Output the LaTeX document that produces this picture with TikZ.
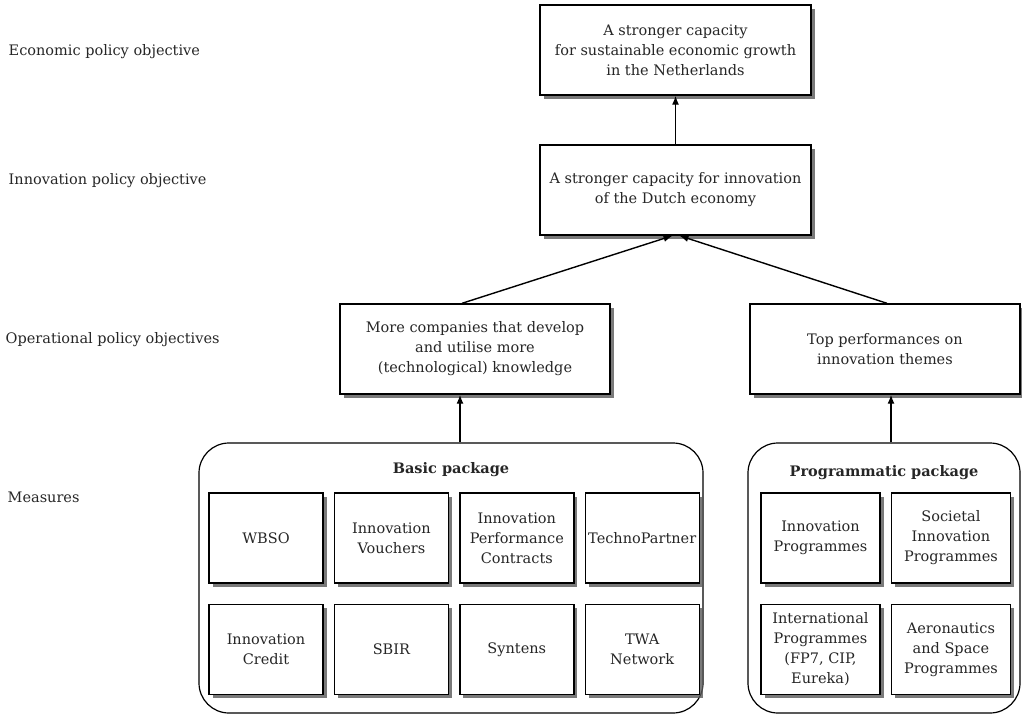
\documentclass[tikz,border=0pt]{standalone}
\usepackage{fontspec}
\setmainfont{DejaVu Serif}
\usetikzlibrary{positioning}
\usetikzlibrary{arrows.meta}
\usetikzlibrary{shadows}
\tikzset{>={Latex[length=9pt,width=7pt]}}
\tikzset{every node/.style={font=\fontsize{14.5}{20}\selectfont, text=black!85}}
\tikzset{goal/.style={draw, fill=white, align=center, minimum width=271pt, minimum height=90pt, inner sep=2pt, drop shadow={shadow xshift=3.5pt, shadow yshift=-4pt, fill=black!65, opacity=0.8}}}
\tikzset{measure/.style={goal, minimum width=114pt}}
\tikzset{pkg/.style={draw, line width=1.2pt, rounded corners=30pt, minimum height=270pt}}
\tikzset{lvl/.style={anchor=west, inner sep=0pt}}
\tikzset{pkgtitle/.style={font=\fontsize{14.5}{20}\selectfont\bfseries}}

\begin{document}
\begin{tikzpicture}[x=1pt, y=-1pt, line width=1.4pt]
        \useasboundingbox (0,0) rectangle (1022,715);

        \node[lvl] (econ) at (8,52) {Economic policy objective};
        \node[lvl] (inno) at (8,181) {Innovation policy objective};
        \node[lvl] (oper) at (5,340) {Operational policy objectives};
        \node[lvl] (meas) at (7,497) {Measures};

        \node[goal] (growth) at (675.5,50) {A stronger capacity\\for sustainable economic growth\\in the Netherlands};
        \node[goal] (innov) at (675.5,190) {A stronger capacity for innovation\\of the Dutch economy};
        \node[goal, minimum width=270pt] (firms) at (475,349) {More companies that develop\\and utilise more\\(technological) knowledge};
        \node[goal, minimum width=270pt] (themes) at (885,349) {Top performances on\\innovation themes};

        \node[pkg, minimum width=504pt] (basic) at (451,578) {};
        \node[pkg, minimum width=272pt] (prog) at (884,578) {};
        \node[pkgtitle] (basictitle) at ([yshift=-27pt]basic.north) {Basic package};
        \node[pkgtitle] (progtitle) at ([yshift=-30pt]prog.north) {Programmatic package};

        \node[measure] (wbso) at (266,538) {WBSO};
        \node[measure, right=10pt of wbso] (vouch) {Innovation\\Vouchers};
        \node[measure, right=10pt of vouch] (ipc) {Innovation\\Performance\\Contracts};
        \node[measure, right=10pt of ipc] (techno) {TechnoPartner};
        \node[measure, below=20pt of wbso] (credit) {Innovation\\Credit};
        \node[measure, right=10pt of credit] (sbir) {SBIR};
        \node[measure, right=10pt of sbir] (syntens) {Syntens};
        \node[measure, right=10pt of syntens] (twa) {TWA\\Network};

        \node[measure, minimum width=119pt] (iprog) at (820.5,538) {Innovation\\Programmes};
        \node[measure, minimum width=119pt, right=10pt of iprog] (sprog) {Societal\\Innovation\\Programmes};
        \node[measure, minimum width=119pt, below=20pt of iprog] (intl) {International\\Programmes\\(FP7, CIP,\\Eureka)};
        \node[measure, minimum width=119pt, right=10pt of intl] (space) {Aeronautics\\and Space\\Programmes};

        \draw[->] (innov) -- (growth);
        \draw[->] ([xshift=-13pt]firms.north) -- ([xshift=-3pt]innov.south);
        \draw[->] ([xshift=2pt]themes.north) -- ([xshift=4pt]innov.south);
        \draw[->] ([xshift=9pt]basic.north) -- ([xshift=-15pt]firms.south);
        \draw[->] ([xshift=7pt]prog.north) -- ([xshift=6pt]themes.south);
    \end{tikzpicture}
\end{document}
